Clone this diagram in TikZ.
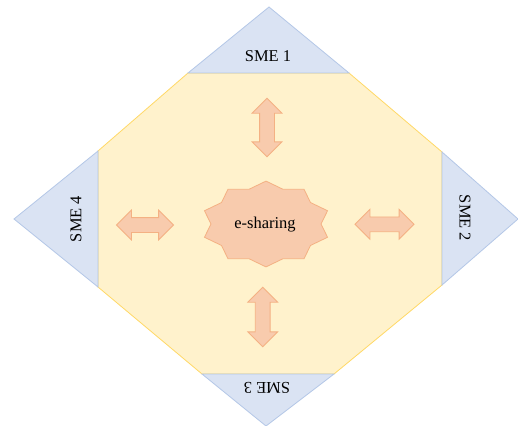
\documentclass[tikz,border=0pt]{standalone}
\usepackage{fontspec}
\setmainfont{Liberation Serif}
\usetikzlibrary{shapes.arrows}
\definecolor{bluefill}{HTML}{DAE3F3}
\definecolor{blueline}{HTML}{B4C7E7}
\definecolor{yelfill}{HTML}{FFF2CC}
\definecolor{yelline}{HTML}{FFD966}
\definecolor{orfill}{HTML}{F8CBAD}
\definecolor{orline}{HTML}{F4B183}
\begin{document}
\begin{tikzpicture}[x=1pt,y=-1pt,
  tri/.style={fill=bluefill, draw=blueline, line width=0.8pt, line join=miter},
  field/.style={fill=yelfill, draw=yelline, line width=0.8pt},
  lbl/.style={font=\fontsize{16.5}{18}\selectfont, inner sep=0pt},
  starsty/.style={fill=orfill, draw=orline, line width=0.8pt},
  dblarrow/.style={double arrow, fill=orfill, draw=orline, line width=0.8pt,
    inner sep=7pt, double arrow head extend=7.5pt}]
\useasboundingbox (0,0) rectangle (518,425);
\fill[white] (0,0) rectangle (518,425);
% central field
\draw[field] (188,73) -- (349,73) -- (442,152) -- (442,285) -- (334,374)
  -- (202,374) -- (98,287) -- (98,151) -- cycle;
% corner triangles
\draw[tri] (188,73) -- (269,7) -- (349,73) -- cycle;
\draw[tri] (442,152) -- (518,219) -- (442,285) -- cycle;
\draw[tri] (202,374) -- (266,426) -- (334,374) -- cycle;
\draw[tri] (98,151) -- (14,219) -- (98,287) -- cycle;
% labels
\node[lbl] (sme1) at (268,56) {SME 1};
\node[lbl, rotate=-90] (sme2) at (465,218) {SME 2};
\node[lbl, rotate=180] (sme3) at (267,388) {SME 3};
\node[lbl, rotate=90] (sme4) at (76,219) {SME 4};
% star
\draw[starsty, shift={(266,224)}] (90:64.7pt and 42.9pt)
  \foreach \a in {0,36,...,324} { -- (90+\a+18:55pt and 36.5pt) -- (90+\a+36:64.7pt and 42.9pt) } -- cycle;
\node[lbl] (share) at (265,225) {e-sharing};
% arrows
\node[dblarrow, shape border rotate=90, minimum height=58.5pt] (arrT) at (267,127.5) {};
\node[dblarrow, minimum height=57pt] (arrL) at (145,225) {};
\node[dblarrow, minimum height=59pt] (arrR) at (384.5,224.3) {};
\node[dblarrow, shape border rotate=90, minimum height=59.5pt] (arrB) at (262.7,317) {};
\end{tikzpicture}
\end{document}
